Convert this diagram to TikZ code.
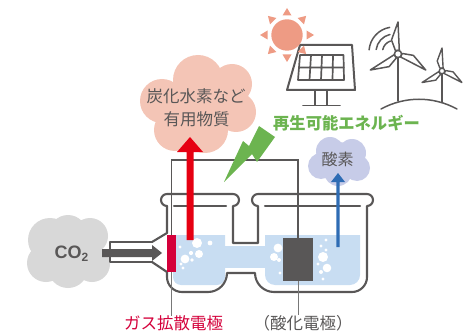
\documentclass[tikz,border=0pt]{standalone}
\usepackage{fontspec}
\setmainfont{Noto Sans CJK JP}
\newfontfamily\formulafont{Liberation Sans}
\definecolor{linegray}{RGB}{89,87,87}
\definecolor{leadergray}{RGB}{120,120,120}
\definecolor{watercol}{RGB}{200,221,242}
\definecolor{pinkcloud}{RGB}{244,197,182}
\definecolor{graycloud}{RGB}{216,216,216}
\definecolor{bluecloud}{RGB}{199,204,232}
\definecolor{suncol}{RGB}{238,155,132}
\definecolor{energygreen}{RGB}{108,180,80}
\definecolor{arrowred}{RGB}{230,0,18}
\definecolor{crimson}{RGB}{212,0,58}
\definecolor{arrowblue}{RGB}{46,108,180}
\begin{document}
\begin{tikzpicture}[x=1pt,y=-1pt,
  outline/.style={draw=linegray, line width=2.1pt, line join=round, line cap=round},
  wire/.style={draw=linegray, line width=1.8pt},
  leader/.style={draw=leadergray, line width=0.9pt},
  icon/.style={draw=linegray, line width=1.6pt, line join=round, line cap=round},
  bubble/.style={fill=white},
  jtext/.style={inner sep=0pt, text=linegray, font=\fontsize{16.5pt}{20pt}\selectfont},
  electrode/.style={inner sep=0pt, outer sep=0pt}
]
\useasboundingbox (0,0) rectangle (470,331);

% ---------- clouds ----------
\fill[pinkcloud] (198,80) circle[radius=25] (232,84) circle[radius=20]
  (162,101) circle[radius=22] (236,112) circle[radius=20]
  (175,130) circle[radius=21] (205,130) circle[radius=23] (200,105) circle[radius=35];
\fill[graycloud] (50,240) circle[radius=22] (68,234) circle[radius=19]
  (90,236) circle[radius=18] (92,264) circle[radius=18] (68,268) circle[radius=20]
  (46,263) circle[radius=19] (70,252) circle[radius=28];
\fill[bluecloud] (330,151) circle[radius=14] (352,153) circle[radius=14]
  (321,166) circle[radius=13] (357,168) circle[radius=13] (338,172) circle[radius=14]
  (339,162) circle[radius=20];

% ---------- electrolyte ----------
\fill[watercol] (173,235) -- (225,235) -- (225,277) arc[start angle=0,end angle=90,radius=8]
  -- (181,285) arc[start angle=90,end angle=180,radius=8] -- cycle;
\fill[watercol] (265,235) -- (360,235) -- (360,275) arc[start angle=0,end angle=90,radius=10]
  -- (275,285) arc[start angle=90,end angle=180,radius=10] -- cycle;
\fill[watercol] (224,246) rectangle (266,268);

% bubbles
\foreach \bx/\by/\br in {197/243/5, 210/243/2.4, 180/247/1.7, 191/253/2.1, 199/254/4,
    185/259/4.4, 192/260/1.8, 181/264/1.7, 183/268/1.7,
    278/248/4.4, 274/257/4, 279/260/2, 280/273/1.6,
    326/240/1.7, 321/246/1.7, 326/250/1.7, 323/257/5, 318/264/1.7,
    327/268/4.3, 321/272/2, 323/279/1.6}
  \fill[bubble] (\bx,\by) circle[radius=\br];

% ---------- glassware ----------
\draw[outline] (167,206) arc[start angle=90,end angle=270,radius=6]
  -- (233,194) arc[start angle=-90,end angle=90,radius=6]
  -- (233,243) -- (258,243) -- (258,206)
  arc[start angle=90,end angle=270,radius=6]
  -- (367,194) arc[start angle=-90,end angle=90,radius=6]
  -- (367,277) arc[start angle=0,end angle=90,radius=15]
  -- (274,292) arc[start angle=90,end angle=180,radius=19]
  -- (227,273) arc[start angle=0,end angle=90,radius=19]
  -- (182,292) arc[start angle=90,end angle=180,radius=15]
  -- (167,272) -- (152,262);
\draw[outline] (152,242) -- (167,233) -- (167,206);
\draw[outline] (174,206) -- (226,206);
\draw[outline] (265,206) -- (360,206);
% gas inlet tube
\draw[outline, fill=white] (152,242) -- (110,242) -- (110,262) -- (152,262);

% ---------- electrodes and circuit ----------
\node[electrode, fill=crimson, minimum width=9pt, minimum height=37pt] (gde) at (171.5,253.5) {};
\node[electrode, fill=linegray, minimum width=30pt, minimum height=43pt] (oxe) at (298,259.5) {};
\draw[wire] (gde.north) -- ++(0,-75) -| (oxe.north);

% ---------- labels ----------
\node[jtext, text=crimson] (gdelabel) at (173.5,323.5) {ガス拡散電極};
\node[jtext] (oxelabel) at (303,323.5) {（酸化電極）};
\draw[leader] (gde.south) -- (gde.south |- gdelabel.north);
\draw[leader] (oxe.south) -- (oxe.south |- oxelabel.north);

% ---------- flows ----------
% CO2 feed
\fill[linegray] (102,249) -- (152,249) -- (152,245) -- (162,253) -- (152,261)
  -- (152,257) -- (102,257) -- cycle;
% products rising
\fill[arrowred] (186.5,240) -- (186.5,152) -- (177,152) -- (190,137) -- (203,152)
  -- (193.5,152) -- (193.5,240) -- cycle;
% oxygen rising
\fill[arrowblue] (336.3,247) -- (336.3,182) -- (331,182) -- (338,173) -- (345,182)
  -- (339.7,182) -- (339.7,247) -- cycle;

% lightning bolt
\fill[energygreen] (259,126) -- (275,137) -- (257,162) -- (252,154) -- (224,182)
  -- (243,141) -- (249,146) -- cycle;

% ---------- solar panel ----------
\draw[icon, line width=2pt] (300,45) -- (352,45) -- (355,90) -- (287,90) -- cycle;
\draw[icon, line width=1.7pt] (300,55) -- (343.5,55) -- (344,80) -- (298,80) -- cycle;
\draw[icon, line width=1.7pt] (311,55) -- (309.5,80) (322,55) -- (321,80) (333,55) -- (332.5,80)
  (299,67.5) -- (343.7,67.5);
\draw[icon, line width=1.8pt] (315,90) -- (315,105) (327,90) -- (327,105) (303,105.5) -- (340,105.5);

% sun
\fill[suncol] (287,35) circle[radius=15.7];
\foreach \a in {0,45,...,315}
  \fill[suncol, shift={(287,35)}, rotate=\a] (19.5,-4.5) -- (27,0) -- (19.5,4.5) -- cycle;

% ---------- wind turbines ----------
\draw[icon, line width=1.5pt] (381,109) .. controls (405,96) and (433,96) .. (457,109);
\draw[icon, line width=1.5pt] (398,57) -- (398,101);
\draw[icon, line width=1.5pt] (442,74) -- (442,102);
\foreach \a in {90,210,330}{
  \draw[icon, line width=1.5pt, shift={(398,54)}, rotate=\a]
    (3.5,1.3) -- (32,0) -- (14,-6.5) -- (3.5,-2.6) -- cycle;
  \draw[icon, line width=1.4pt, shift={(442,71)}, rotate=\a]
    (3,1.1) -- (23,0) -- (10,-4.8) -- (3,-2.2) -- cycle;
}
\draw[icon, line width=1.5pt, fill=white] (398,54) circle[radius=3.6];
\draw[icon, line width=1.4pt, fill=white] (442,71) circle[radius=2.8];
% wind lines
\draw[icon, line width=1.5pt] (394,52) ++(-175:25) arc[start angle=-175,end angle=-100,radius=25];
\draw[icon, line width=1.5pt] (394,52) ++(-172:18) arc[start angle=-172,end angle=-103,radius=18];
\draw[icon, line width=1.5pt] (394,52) ++(-168:11.5) arc[start angle=-168,end angle=-108,radius=11.5];

% ---------- texts ----------
\node[jtext] (prod1) at (196,96) {炭化水素など};
\node[jtext] (prod2) at (196.5,119.5) {有用物質};
\node[jtext, text=energygreen, font=\fontsize{16.3pt}{20pt}\selectfont\bfseries] (renew) at (346.5,123.5) {再生可能エネルギー};
\node[jtext, font=\fontsize{16pt}{20pt}\selectfont] (oxygen) at (337.5,159.5) {酸素};
\node[inner sep=0pt, text=linegray, font=\formulafont\bfseries\fontsize{18pt}{20pt}\selectfont] (co2) at (71.5,253.5)
  {CO\raisebox{-2.5pt}{\fontsize{12pt}{12pt}\selectfont 2}};
\end{tikzpicture}
\end{document}
